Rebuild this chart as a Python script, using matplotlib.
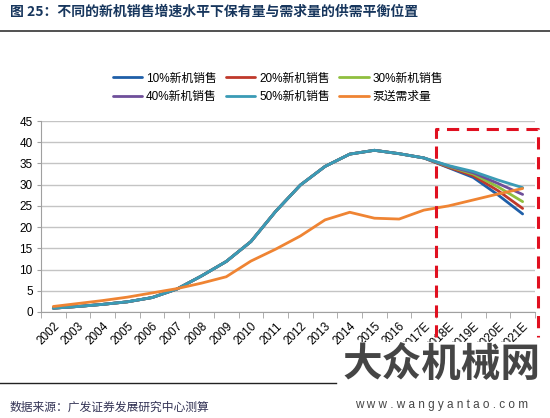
import matplotlib
matplotlib.use('Agg')
import matplotlib.pyplot as plt
import numpy as np

plt.rcParams['font.family'] = ['Liberation Sans', 'Noto Sans CJK SC', 'DejaVu Sans']

# 数据
years = ['2002', '2003', '2004', '2005', '2006', '2007', '2008', '2009', '2010', '2011',
         '2012', '2013', '2014', '2015', '2016', '2017E', '2018E', '2019E', '2020E', '2021E']
base = [0.9, 1.3, 1.8, 2.4, 3.4, 5.4, 8.5, 11.9, 16.6, 23.7,
        29.9, 34.3, 37.2, 38.1, 37.3, 36.3]
s10 = base + [34.0, 31.7, 27.6, 23.1]
s20 = base + [34.1, 32.1, 28.6, 24.4]
s30 = base + [34.3, 32.5, 29.5, 26.0]
s40 = base + [34.4, 32.8, 30.3, 27.7]
s50 = base + [34.5, 33.1, 31.1, 29.3]
demand = [1.3, 2.0, 2.7, 3.5, 4.5, 5.5, 6.8, 8.3, 12.0, 14.8,
          17.9, 21.7, 23.5, 22.1, 21.9, 24.0, 25.0, 26.4, 27.8, 29.1]

labels = ['10%新机销售', '20%新机销售', '30%新机销售', '40%新机销售', '50%新机销售', '泵送需求量']
series = [s10, s20, s30, s40, s50, demand]
colors = ['#1f5fa8', '#c0392b', '#8fbf3f', '#6f4f9a', '#3a9bb5', '#ef8433']

fig = plt.figure(figsize=(5.5, 4.18), dpi=100)
ax = fig.add_axes([0.0745, 0.2536, 0.8982, 0.4569])

x = np.arange(len(years))
lines = []
for s, lab, c in zip(series, labels, colors):
    ln, = ax.plot(x, s, color=c, lw=2.0, label=lab, solid_capstyle='round')
    lines.append(ln)

ax.set_xlim(-0.5, len(years) - 0.5)
ax.set_ylim(0, 45)
ax.set_yticks(np.arange(0, 46, 5))
ax.yaxis.grid(True, color='#c4c4c4', lw=1)
ax.set_axisbelow(True)
for sp in ['top', 'right']:
    ax.spines[sp].set_visible(False)
for sp in ['left', 'bottom']:
    ax.spines[sp].set_color('#a0a0a0')
ax.tick_params(axis='y', labelsize=8.5, length=3, color='#a0a0a0', pad=3)

ax.set_xticks(x)
ax.set_xticklabels(years, rotation=45, ha='right', rotation_mode='anchor', fontsize=8.5)
ax.tick_params(axis='x', which='major', length=0, pad=6)
ax.set_xticks(np.arange(-0.5, len(years), 1), minor=True)
ax.tick_params(axis='x', which='minor', length=4, color='#a0a0a0')

# 红色虚线框
ax.plot([15.5, 15.5, 19.62, 19.62], [-6, 43, 43, -6], color='#e01020', lw=2.2,
        ls=(0, (4, 2.5)), clip_on=False, zorder=5)

# 图例 (按行排列)
order = [0, 3, 1, 4, 2, 5]
fig.legend([lines[i] for i in order], [labels[i] for i in order], ncol=3,
           loc='center', bbox_to_anchor=(0.505, 0.79), frameon=False,
           fontsize=8.5, handlelength=2.5, columnspacing=0.8, handletextpad=0.3,
           labelspacing=0.55)

# 标题和线
fig.text(0.018, 0.972, '图 25：不同的新机销售增速水平下保有量与需求量的供需平衡位置',
         fontsize=10, fontweight='bold', color='#17365d', va='center',
         family=['Noto Sans CJK SC', 'DejaVu Sans'])
fig.add_artist(plt.Line2D([0, 1], [0.925, 0.925], color='#333333', lw=1.2))
fig.add_artist(plt.Line2D([0, 0.61], [0.083, 0.083], color='#222222', lw=1))
fig.text(0.018, 0.026, '数据来源：广发证券发展研究中心测算', fontsize=8.5, color='#333355',
         va='center', family=['Noto Sans CJK SC', 'DejaVu Sans'])

# 水印
fig.text(0.802, 0.128, '大众机械网', fontsize=28.5, fontweight='bold', color='#454545',
         ha='center', va='center', family=['Noto Sans CJK SC', 'DejaVu Sans'],
         bbox=dict(facecolor='white', edgecolor='none', pad=1), zorder=10)
fig.text(0.802, 0.03, 'w w w . w a n g y a n t a o . c o m', fontsize=8.5, color='#454545',
         ha='center', va='center', zorder=10)

fig.savefig('out.png', dpi=100)
